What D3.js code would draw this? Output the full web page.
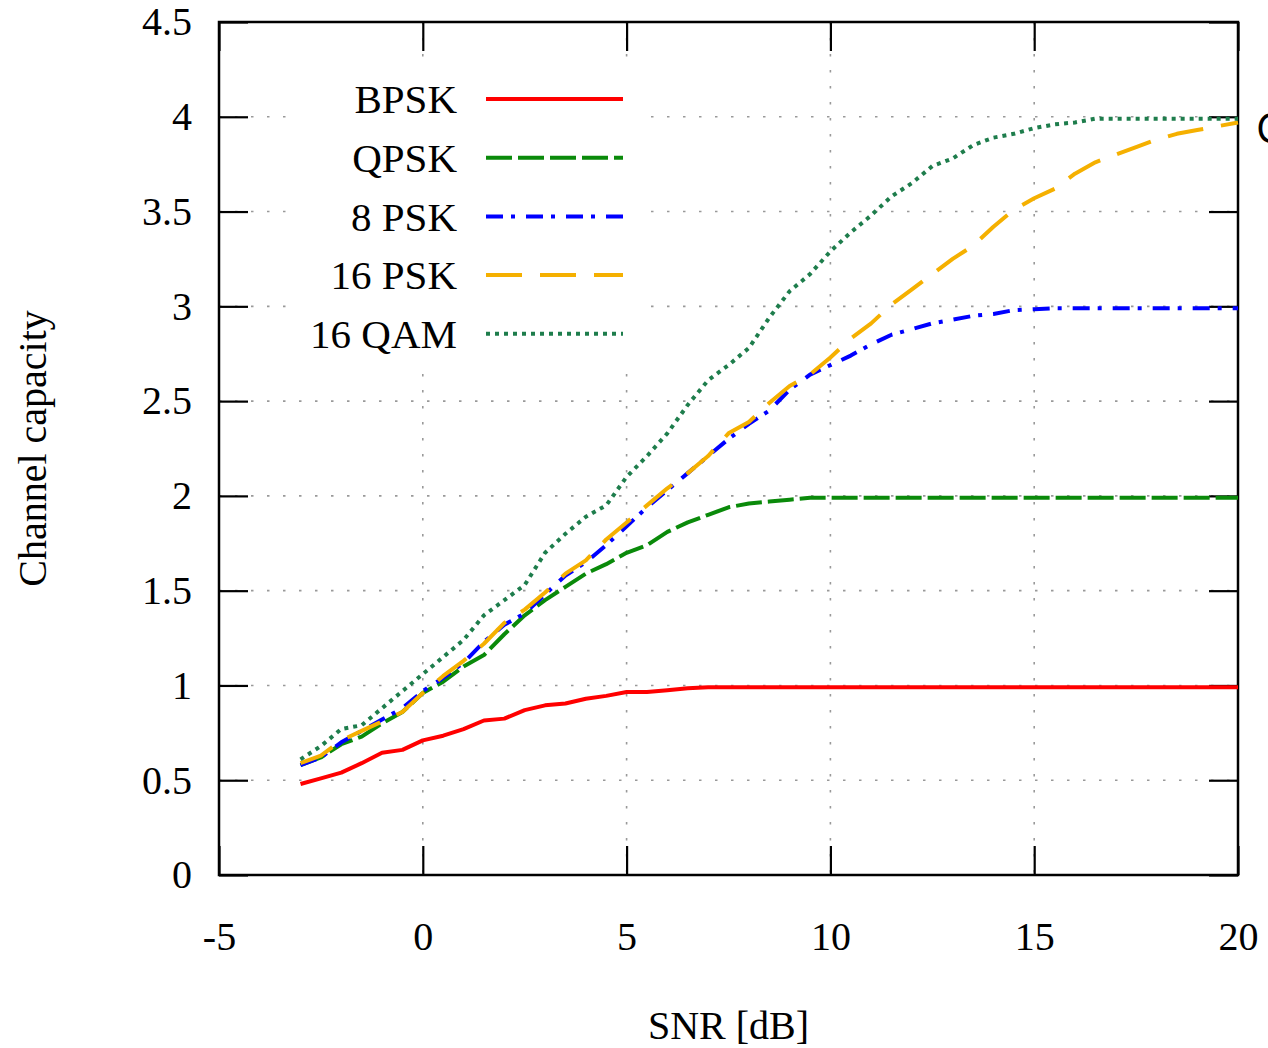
<!DOCTYPE html>
<html>
<head>
<meta charset="utf-8">
<script src="https://cdn.jsdelivr.net/npm/d3@7/dist/d3.min.js"></script>
<style>
  html, body { margin: 0; padding: 0; background: #fff; overflow: hidden; }
  svg { display: block; }
</style>
</head>
<body>
<svg id="chart" width="1268" height="1048"></svg>
<script>
// ---- data ----
const snr = [-3,-2.5,-2,-1.5,-1,-0.5,0,0.5,1,1.5,2,2.5,3,3.5,4,4.5,5,5.5,6,6.5,7,7.5,8,8.5,9,9.5,10,10.5,11,11.5,12,12.5,13,13.5,14,14.5,15,15.5,16,16.5,17,17.5,18,18.5,19,19.5,20];
const bpsk = [0.48,0.51,0.54,0.59,0.645,0.66,0.71,0.735,0.77,0.815,0.825,0.87,0.895,0.905,0.93,0.945,0.965,0.965,0.975,0.985,0.99,0.99,0.99,0.99,0.99,0.99,0.99,0.99,0.99,0.99,0.99,0.99,0.99,0.99,0.99,0.99,0.99,0.99,0.99,0.99,0.99,0.99,0.99,0.99,0.99,0.99,0.99];
const qpsk = [0.58,0.62,0.69,0.73,0.80,0.86,0.96,1.02,1.10,1.16,1.27,1.37,1.45,1.52,1.59,1.64,1.70,1.74,1.81,1.86,1.90,1.94,1.96,1.97,1.98,1.99,1.99,1.99,1.99,1.99,1.99,1.99,1.99,1.99,1.99,1.99,1.99,1.99,1.99,1.99,1.99,1.99,1.99,1.99,1.99,1.99,1.99];
const psk8 = [0.58,0.62,0.70,0.76,0.82,0.88,0.97,1.04,1.12,1.23,1.32,1.38,1.48,1.58,1.65,1.74,1.84,1.94,2.03,2.12,2.21,2.30,2.38,2.45,2.56,2.64,2.69,2.74,2.80,2.85,2.88,2.91,2.93,2.95,2.96,2.98,2.985,2.99,2.99,2.99,2.99,2.99,2.99,2.99,2.99,2.99,2.99];
const psk16 = [0.59,0.63,0.71,0.76,0.81,0.86,0.96,1.05,1.13,1.22,1.33,1.40,1.49,1.59,1.66,1.77,1.86,1.95,2.04,2.12,2.21,2.33,2.39,2.49,2.58,2.64,2.73,2.83,2.91,3.01,3.09,3.17,3.25,3.32,3.42,3.51,3.57,3.62,3.70,3.76,3.80,3.84,3.88,3.91,3.93,3.95,3.97];
const qam16 = [0.61,0.68,0.77,0.79,0.88,0.97,1.06,1.15,1.24,1.37,1.45,1.53,1.70,1.80,1.89,1.95,2.10,2.21,2.33,2.48,2.61,2.69,2.78,2.94,3.08,3.17,3.29,3.39,3.48,3.58,3.65,3.74,3.78,3.85,3.89,3.91,3.94,3.96,3.97,3.99,3.99,3.99,3.99,3.99,3.99,3.99,3.99];

const seriesNames = ["BPSK","QPSK","8 PSK","16 PSK","16 QAM"];
const seriesValues = [bpsk, qpsk, psk8, psk16, qam16];
const xTicks = [-5,0,5,10,15,20];
const yTicks = [0,0.5,1,1.5,2,2.5,3,3.5,4,4.5];
const xLabel = "SNR [dB]";
const yLabel = "Channel capacity";

// ---- styles ----
const colors = ["#ff0000","#0a8a0a","#0000ff","#f5b000","#1e7d4c"];
const dashes = [null,"26,6","17,8,4,11","36,18","4,5"];
const FONT = "'Liberation Serif','Times New Roman',serif";

const svg = d3.select("#chart");
const L = 219, R = 1238, T = 22, B = 875;
const x = d3.scaleLinear().domain([-5,20]).range([L,R]);
const y = d3.scaleLinear().domain([0,4.5]).range([B,T]);

// grid
const grid = svg.append("g");
grid.selectAll("line.gx").data(xTicks.slice(1,-1)).join("line")
  .attr("x1",d=>x(d)).attr("x2",d=>x(d)).attr("y1",T).attr("y2",B)
  .attr("stroke","#999").attr("stroke-width",1.6).attr("stroke-dasharray","2.5,13.5");
grid.selectAll("line.gy").data(yTicks.slice(1,-1)).join("line")
  .attr("x1",L).attr("x2",R).attr("y1",d=>y(d)).attr("y2",d=>y(d))
  .attr("stroke","#999").attr("stroke-width",1.6).attr("stroke-dasharray","2.5,13.5");

// legend background
svg.append("rect").attr("x",290).attr("y",70).attr("width",358).attr("height",295).attr("fill","#fff");

// axes with inward ticks (mirrored)
const tickLen = 29;
const ax = svg.append("g").attr("font-family",FONT).attr("font-size",40);
const xAxisB = d3.axisBottom(x).tickValues(xTicks).tickSize(-tickLen).tickPadding(47).tickFormat(d=>String(d));
const xAxisT = d3.axisTop(x).tickValues(xTicks).tickSize(-tickLen).tickFormat("");
const yAxisL = d3.axisLeft(y).tickValues(yTicks).tickSize(-tickLen).tickPadding(27).tickFormat(d=>String(d));
const yAxisR = d3.axisRight(y).tickValues(yTicks).tickSize(-tickLen).tickFormat("");
[["b",xAxisB,`translate(0,${B})`],["t",xAxisT,`translate(0,${T})`],["l",yAxisL,`translate(${L},0)`],["r",yAxisR,`translate(${R},0)`]].forEach(([k,a,tr])=>{
  const g = ax.append("g").attr("transform",tr).call(a);
  g.select(".domain").remove();
  g.selectAll(".tick line").attr("stroke","#000").attr("stroke-width",2.2);
  g.selectAll(".tick text").attr("fill","#000").attr("font-family",FONT).attr("font-size",40);
});
svg.append("rect").attr("x",L).attr("y",T).attr("width",R-L).attr("height",B-T)
  .attr("fill","none").attr("stroke","#000").attr("stroke-width",2.5);

// curves
const line = d3.line().x((d,i)=>x(snr[i])).y(d=>y(d));
seriesValues.forEach((vals,k)=>{
  svg.append("path").datum(vals).attr("d",line)
    .attr("fill","none").attr("stroke",colors[k]).attr("stroke-width",4)
    .attr("stroke-dasharray",dashes[k]).attr("stroke-linejoin","round");
});

// legend
const lg = svg.append("g");
seriesNames.forEach((n,k)=>{
  const yy = 99 + k*58.7;
  lg.append("text").attr("x",457).attr("y",yy).attr("dy","0.35em").attr("text-anchor","end")
    .attr("font-family",FONT).attr("font-size",41).attr("fill","#000").text(n);
  lg.append("line").attr("x1",486).attr("x2",623).attr("y1",yy).attr("y2",yy)
    .attr("stroke",colors[k]).attr("stroke-width",4).attr("stroke-dasharray",dashes[k]);
});

// axis titles
svg.append("text").attr("x",(L+R)/2).attr("y",1025).attr("dy","0.35em").attr("text-anchor","middle")
  .attr("font-family",FONT).attr("font-size",40).attr("fill","#000").text(xLabel);
svg.append("text").attr("transform",`translate(32,${(T+B)/2}) rotate(-90)`).attr("dy","0.35em").attr("text-anchor","middle")
  .attr("font-family",FONT).attr("font-size",40).attr("fill","#000").text(yLabel);

// text cut off at the right edge, as in the reference
svg.append("text").attr("x",1256).attr("y",143).attr("font-family","'Open Sans','DejaVu Sans',sans-serif")
  .attr("font-size",42).attr("fill","#000").text("C");
</script>
</body>
</html>
